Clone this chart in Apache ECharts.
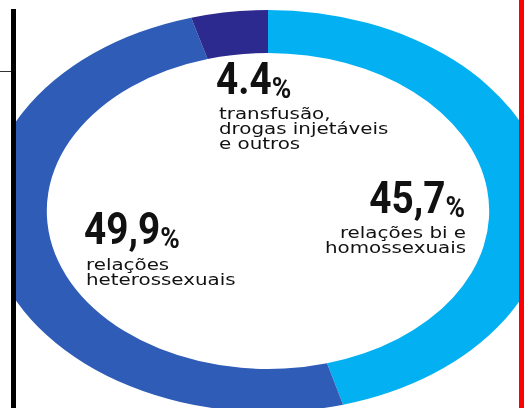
<!DOCTYPE html>
<html><head><meta charset="utf-8">
<script src="https://cdn.jsdelivr.net/npm/echarts@6/dist/echarts.min.js"></script>
<style>
html,body{margin:0;padding:0;background:#fff;width:528px;height:408px;overflow:hidden}
#clip{position:absolute;left:16px;top:0;width:503px;height:408px;overflow:hidden}
#pie{position:absolute;left:52px;top:0;width:400px;height:420px;transform:scaleX(1.4);transform-origin:200px 0}
#ov{position:absolute;left:0;top:0;width:528px;height:408px}
</style></head><body>
<div id="clip"><div id="pie"></div></div>
<div id="ov"></div>
<script>
// ---- data ----
const categories = ['relações bi e homossexuais', 'relações heterossexuais', 'transfusão, drogas injetáveis e outros'];
const values = [45.7, 49.9, 4.4];
const valueLabels = ['45,7', '49,9', '4.4'];
const descLines = [['relações bi e', 'homossexuais'], ['relações', 'heterossexuais'], ['transfusão,', 'drogas injetáveis', 'e outros']];
const colors = ['#03b0f1', '#2e5cb7', '#2c2a8e'];

// ---- pie (elliptical via horizontal stretch of its container) ----
const pie = echarts.init(document.getElementById('pie'), null, {renderer: 'svg'});
pie.setOption({
  animation: false,
  series: [{
    type: 'pie',
    silent: true,
    center: [200, 211],
    radius: [158, 201],
    startAngle: 90,
    clockwise: true,
    label: {show: false},
    labelLine: {show: false},
    emphasis: {disabled: true},
    itemStyle: {borderWidth: 0},
    data: categories.map((c, i) => ({name: c, value: values[i], itemStyle: {color: colors[i]}}))
  }]
});

// ---- text / frame overlay ----
const layout = [
  {num: [465, 180], align: 'right', desc: [466, 226]},
  {num: [84, 211], align: 'left', desc: [86, 258]},
  {num: [216, 61], align: 'left', desc: [219, 107]}
];
const graphics = [
  {type: 'rect', shape: {x: 11, y: 9, width: 5, height: 399}, style: {fill: '#000'}},
  {type: 'rect', shape: {x: 0, y: 71, width: 11, height: 1}, style: {fill: '#333'}},
  {type: 'rect', shape: {x: 519, y: 0, width: 5, height: 408}, style: {fill: '#ff0000'}}
];
valueLabels.forEach((v, i) => {
  const L = layout[i];
  graphics.push({
    type: 'text', x: L.num[0], y: L.num[1], scaleX: 0.88,
    style: {
      text: '{n|' + v + '}{p|%}',
      textAlign: L.align, textVerticalAlign: 'top',
      rich: {
        n: {fontSize: 44, fontFamily: 'Roboto', fontWeight: 'bold', lineHeight: 44, verticalAlign: 'bottom', fill: '#111'},
        p: {fontSize: 30, fontFamily: 'Roboto', fontWeight: 'bold', lineHeight: 34, verticalAlign: 'bottom', fill: '#111'}
      }
    }
  });
  graphics.push({
    type: 'text', x: L.desc[0], y: L.desc[1], scaleX: 1.24,
    style: {
      text: descLines[i].join('\n'),
      textAlign: L.align, textVerticalAlign: 'top',
      fontSize: 16, fontFamily: 'DejaVu Sans', lineHeight: 15, fill: '#111'
    }
  });
});
const ov = echarts.init(document.getElementById('ov'));
ov.setOption({animation: false, graphic: graphics});
</script>
</body></html>
